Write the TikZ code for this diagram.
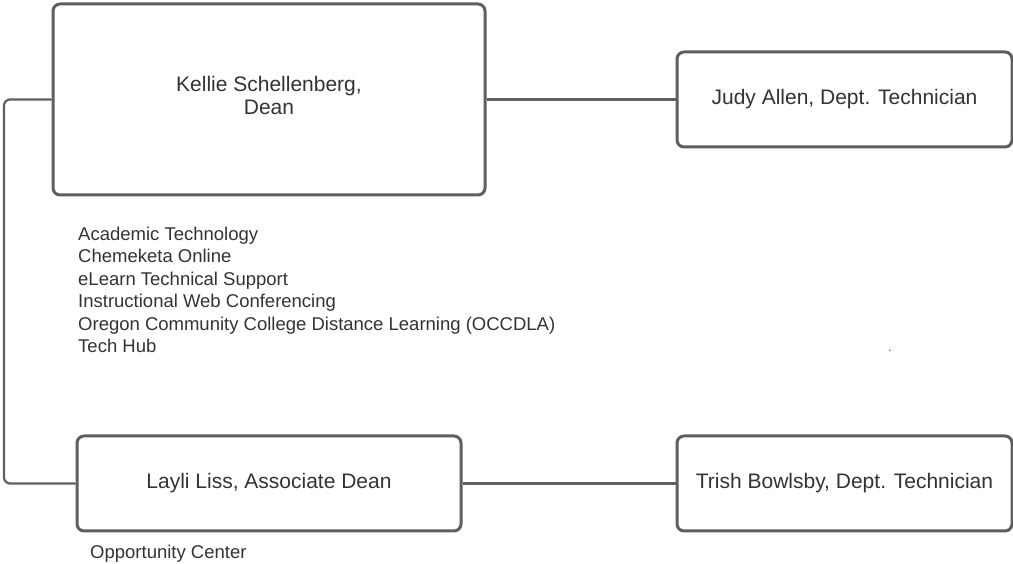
\documentclass[tikz,border=0pt]{standalone}
\usepackage{fontspec}
\setmainfont{Liberation Sans}
\definecolor{edge}{HTML}{5F5F5F}
\definecolor{ink}{HTML}{333333}
\begin{document}
\begin{tikzpicture}[x=1pt,y=1pt,
  box/.style={draw=edge,line width=3pt,rounded corners=7pt,fill=white,inner sep=0pt,text=ink,align=center,font=\fontsize{21}{23}\selectfont},
  boxtext/.style={inner sep=0pt,text=ink,align=center,font=\fontsize{21}{23.5}\selectfont},
  link/.style={draw=edge,line width=2.2pt,rounded corners=6pt},
  note/.style={inner sep=0pt,text=ink,align=left,font=\fontsize{18.5}{22.4}\selectfont}]
\useasboundingbox (0,0) rectangle (1013,564);
\node[box,minimum width=432pt,minimum height=191pt] (dean) at (269,464.5) {};
\node[boxtext] (deantext) at ([yshift=4pt]dean.center) {Kellie Schellenberg,\\Dean};
\node[box,minimum width=335pt,minimum height=95pt] (judy) at (844.5,464.5) {Judy Allen, Dept. Technician};
\node[box,minimum width=384pt,minimum height=95pt] (layli) at (269,80.5) {Layli Liss, Associate Dean};
\node[box,minimum width=335pt,minimum height=95pt] (trish) at (844.5,80.5) {Trish Bowlsby, Dept. Technician};
\draw[link] (dean.east) -- (judy.west);
\draw[link] (layli.east) -- (trish.west);
\draw[link] (dean.west) -| (4,300) |- (layli.west);
\node[note,anchor=north west] (list) at (78,337) {Academic Technology\\Chemeketa Online\\eLearn Technical Support\\Instructional Web Conferencing\\Oregon Community College Distance Learning (OCCDLA)\\Tech Hub};
\node[note,anchor=base west] (opp) at (90,5) {Opportunity Center};
\node[note,anchor=base,font=\fontsize{12}{14}\selectfont] (dot) at (890,212) {.};
\end{tikzpicture}
\end{document}
